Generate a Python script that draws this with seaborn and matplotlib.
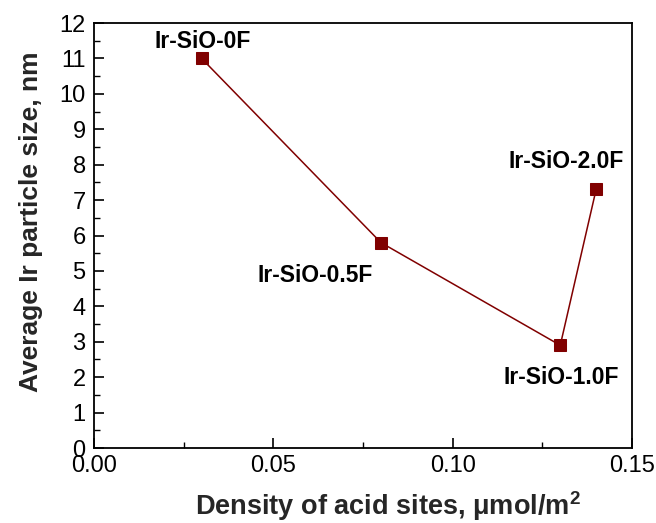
import matplotlib
matplotlib.use("Agg")
import matplotlib.pyplot as plt
from matplotlib.ticker import MultipleLocator, FormatStrFormatter
import seaborn as sns
import pandas as pd

# Acid site density vs. mean Ir particle size
density = [0.03, 0.08, 0.13, 0.14]
particle_size = [11.0, 5.8, 2.9, 7.3]
samples = ["Ir-SiO-0F", "Ir-SiO-0.5F", "Ir-SiO-1.0F", "Ir-SiO-2.0F"]
label_x = [0.0304, 0.0616, 0.1302, 0.1316]
label_y = [11.47, 4.88, 2.00, 8.10]

df = pd.DataFrame({"density": density, "size": particle_size, "sample": samples})

sns.set_theme(style="ticks")
plt.rcParams["font.family"] = ["Liberation Sans", "DejaVu Sans"]

fig = plt.figure(figsize=(6.56, 5.23), dpi=100)
ax = fig.add_axes([0.1433, 0.1434, 0.8201, 0.8126])

dark_red = "#800000"
sns.lineplot(data=df, x="density", y="size", sort=False, ax=ax,
             color=dark_red, linewidth=1.1, marker="s", markersize=9,
             markeredgecolor=dark_red, markerfacecolor=dark_red)

for name, lx, ly in zip(samples, label_x, label_y):
    ax.text(lx, ly, name, ha="center", va="center",
            fontsize=16.5, fontweight="bold", color="black")

ax.set_xlim(0, 0.15)
ax.set_ylim(0, 12)
ax.xaxis.set_major_locator(MultipleLocator(0.05))
ax.xaxis.set_minor_locator(MultipleLocator(0.025))
ax.yaxis.set_major_locator(MultipleLocator(1))
ax.yaxis.set_minor_locator(MultipleLocator(0.5))
ax.xaxis.set_major_formatter(FormatStrFormatter("%.2f"))

ax.tick_params(axis="both", which="major", direction="in", length=7,
               width=1.2, labelsize=17, color="black", labelcolor="black")
ax.tick_params(axis="x", which="major", pad=5)
ax.tick_params(axis="y", which="major", pad=6)
ax.tick_params(axis="both", which="minor", direction="in", length=4,
               width=1.0, color="black")
ax.tick_params(top=False, right=False, which="both")

for s in ax.spines.values():
    s.set_linewidth(1.3)
    s.set_color("black")

ax.set_xlabel("Density of acid sites, μmol/m$^\\mathregular{2}$",
              fontsize=19.5, fontweight="bold", labelpad=9)
ax.set_ylabel("Average Ir particle size, nm", fontsize=19,
              fontweight="bold", labelpad=12)
ax.xaxis.label.set_x(0.546)
ax.yaxis.label.set_y(0.532)

fig.savefig("out.png", dpi=100)
